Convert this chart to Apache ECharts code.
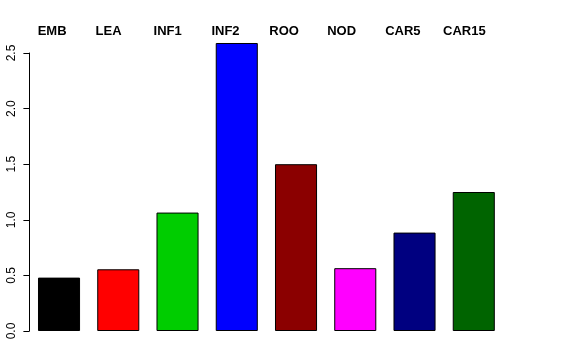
<!DOCTYPE html>
<html><head><meta charset="utf-8">
<script src="https://cdn.jsdelivr.net/npm/echarts@6/dist/echarts.min.js"></script>
<style>html,body{margin:0;padding:0;background:#fff}#c{width:576px;height:360px}</style>
</head><body><div id="c"></div>
<script>
var categories = ['EMB','LEA','INF1','INF2','ROO','NOD','CAR5','CAR15'];
var values = [0.48, 0.555, 1.065, 2.59, 1.50, 0.565, 0.885, 1.25];
var colors = ['#000000','#FF0000','#00CD00','#0000FF','#8B0000','#FF00FF','#000080','#006400'];
var yTicks = ['0.0','0.5','1.0','1.5','2.0','2.5'];

var chart = echarts.init(document.getElementById('c'), null, {renderer:'canvas'});
var font = 'Liberation Sans, Arial, Helvetica, sans-serif';
chart.setOption({
  animation: false,
  backgroundColor: '#fff',
  grid: [
    {left: 29.4, right: 72.6, top: 53, bottom: 29},
    {left: 8.75, right: 104, top: 40, height: 1}
  ],
  xAxis: [
    {gridIndex: 0, type: 'category', data: categories,
     axisLine: {show: false}, axisTick: {show: false}, axisLabel: {show: false}},
    {gridIndex: 1, type: 'category', data: categories, position: 'top',
     axisLine: {show: false}, axisTick: {show: false},
     axisLabel: {show: true, align: 'left', verticalAlign: 'middle', margin: 9,
       fontFamily: font, fontWeight: 'bold', fontSize: 13, color: '#000'}}
  ],
  yAxis: [
    {gridIndex: 0, type: 'value', min: 0, max: 2.5, interval: 0.5,
     splitLine: {show: false},
     axisLine: {show: true, lineStyle: {color: '#000', width: 1}},
     axisTick: {show: true, length: 6, lineStyle: {color: '#000'}},
     axisLabel: {show: true, rotate: 90, margin: 12, fontFamily: font, fontSize: 12, color: '#000',
       formatter: function(v){ return yTicks[Math.round(v/0.5)]; }}},
    {gridIndex: 1, type: 'value', show: false}
  ],
  series: [{
    type: 'bar', xAxisIndex: 0, yAxisIndex: 0, clip: false,
    barCategoryGap: '29%',
    data: values.map(function(v, i){
      return {value: v, itemStyle: {color: colors[i], borderColor: '#000', borderWidth: 1}};
    })
  }]
});
</script></body></html>
